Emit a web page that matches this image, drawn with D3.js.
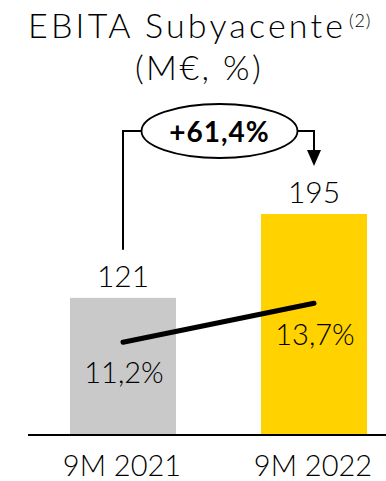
<!DOCTYPE html>
<html>
<head>
<meta charset="utf-8">
<script src="https://cdn.jsdelivr.net/npm/d3@7"></script>
<style>
  html, body { margin: 0; padding: 0; background: #fff; }
  svg { display: block; }
  text { font-family: "Lato", "Open Sans", sans-serif; fill: #000; font-weight: 300; }
</style>
</head>
<body>
<svg id="chart" width="386" height="481"></svg>
<script>
// Underlying EBITA (M€) and margin (%) for the nine-month periods
const categories = ["9M 2021", "9M 2022"];
const ebita = [121, 195];
const ebitaLabels = ["121", "195"];
const margin = [11.2, 13.7];
const marginLabels = ["11,2%", "13,7%"];
const growthLabel = "+61,4%";
const barColors = ["#c9c9c9", "#ffd200"];

const svg = d3.select("#chart");

const x = d3.scaleBand()
  .domain(categories)
  .range([70, 367])
  .paddingInner(0.445)
  .paddingOuter(0);

const y = d3.scaleLinear().domain([0, 195]).range([435, 214]);
const yPct = d3.scaleLinear().domain([0, 20]).range([517, 205]);

const cx = d => x(d) + x.bandwidth() / 2;

// Title
svg.append("text")
  .attr("x", 28).attr("y", 38)
  .style("font-size", "34px")
  .style("letter-spacing", "3.2px")
  .text("EBITA Subyacente");
svg.append("text")
  .attr("x", 349).attr("y", 27)
  .style("font-size", "18px")
  .style("letter-spacing", "0.8px")
  .text("(2)");

svg.append("text")
  .attr("x", 199).attr("y", 80)
  .attr("text-anchor", "middle")
  .style("font-size", "34px")
  .style("letter-spacing", "2.4px")
  .text("(M€, %)");

// Bars
svg.selectAll("rect.bar")
  .data(categories)
  .join("rect")
  .attr("class", "bar")
  .attr("x", d => x(d))
  .attr("y", (d, i) => y(ebita[i]))
  .attr("width", x.bandwidth())
  .attr("height", (d, i) => y(0) - y(ebita[i]))
  .attr("fill", (d, i) => barColors[i]);

// Baseline
svg.append("line")
  .attr("x1", 28).attr("x2", 386)
  .attr("y1", y(0)).attr("y2", y(0))
  .attr("stroke", "#000").attr("stroke-width", 2);

// Value labels above bars
svg.selectAll("text.val")
  .data(categories)
  .join("text")
  .attr("class", "val")
  .attr("x", d => cx(d))
  .attr("y", (d, i) => y(ebita[i]) - 11)
  .attr("text-anchor", "middle")
  .style("font-size", "30px")
  .text((d, i) => ebitaLabels[i]);

// Margin line
const line = d3.line()
  .x((d, i) => cx(categories[i]))
  .y(d => yPct(d));

svg.append("path")
  .datum(margin)
  .attr("d", line)
  .attr("fill", "none")
  .attr("stroke", "#000")
  .attr("stroke-width", 5)
  .attr("stroke-linecap", "round");

// Margin labels
const pctOffsets = [41, 42];
svg.selectAll("text.pct")
  .data(categories)
  .join("text")
  .attr("class", "pct")
  .attr("x", d => cx(d) + 1)
  .attr("y", (d, i) => yPct(margin[i]) + pctOffsets[i])
  .attr("text-anchor", "middle")
  .style("font-size", "29px")
  .text((d, i) => marginLabels[i]);

// Category axis labels
svg.selectAll("text.cat")
  .data(categories)
  .join("text")
  .attr("class", "cat")
  .attr("x", d => cx(d) - 1)
  .attr("y", 476)
  .attr("text-anchor", "middle")
  .style("font-size", "29px")
  .text(d => d);

// Growth connector: bracket from the first bar label to the second, with an ellipse badge
const bracketY = 131;
const ex = (cx(categories[0]) + cx(categories[1])) / 2 + 1;
const rx = 78, ry = 27;
const x0 = cx(categories[0]), x1 = cx(categories[1]);

svg.append("path")
  .attr("d", `M${x0},${y(ebita[0]) - 48}V${bracketY}H${ex - rx}`)
  .attr("fill", "none").attr("stroke", "#000").attr("stroke-width", 2);

svg.append("path")
  .attr("d", `M${ex + rx},${bracketY}H${x1}V${152}`)
  .attr("fill", "none").attr("stroke", "#000").attr("stroke-width", 2);

svg.append("path")
  .attr("d", `M${x1 - 7},${150}L${x1 + 7},${150}L${x1},${166}Z`)
  .attr("fill", "#000");

svg.append("ellipse")
  .attr("cx", ex).attr("cy", bracketY)
  .attr("rx", rx).attr("ry", ry)
  .attr("fill", "#fff").attr("stroke", "#000").attr("stroke-width", 1.8);

svg.append("text")
  .attr("x", ex).attr("y", bracketY + 11)
  .attr("text-anchor", "middle")
  .style("font-size", "28px")
  .style("font-weight", "bold")
  .style("letter-spacing", "1px")
  .text(growthLabel);
</script>
</body>
</html>
